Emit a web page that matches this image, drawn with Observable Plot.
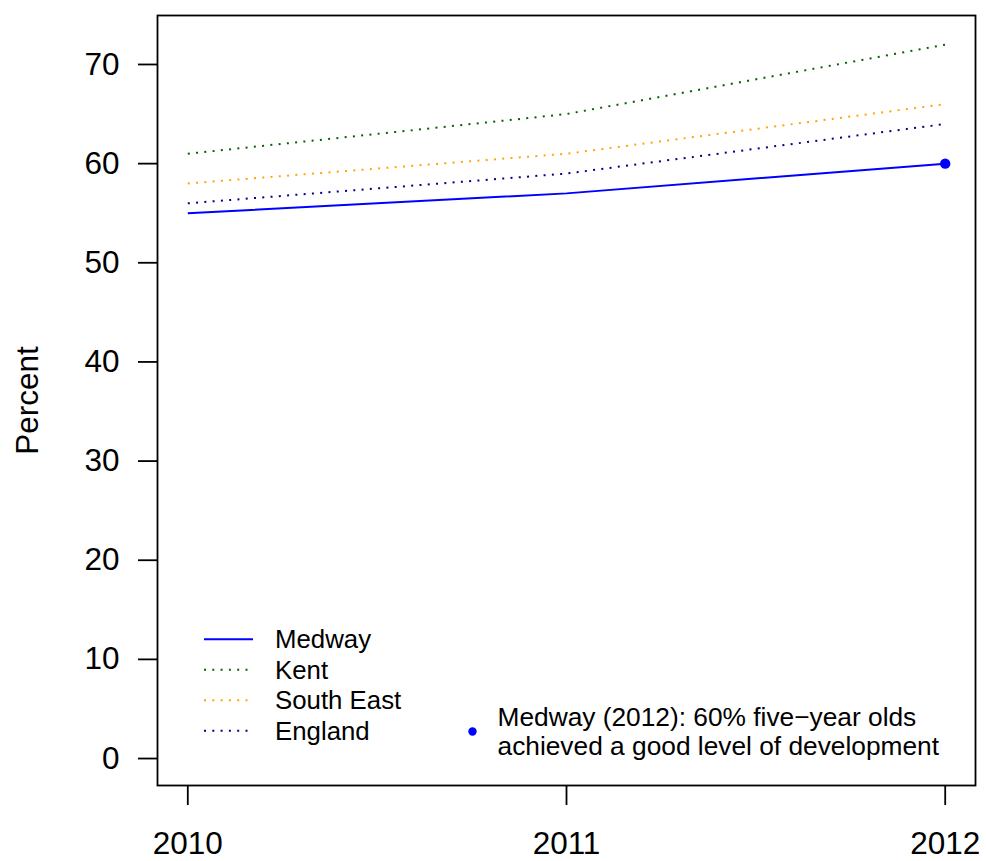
<!DOCTYPE html>
<html>
<head>
<meta charset="utf-8">
<script src="https://cdn.jsdelivr.net/npm/d3@7"></script>
<script src="https://cdn.jsdelivr.net/npm/@observablehq/plot@0.6"></script>
<style>
  body { margin: 0; background: #fff; }
  #chart { position: relative; width: 986px; height: 861px; }
</style>
</head>
<body>
<div id="chart"></div>
<script>
const years = [2010, 2011, 2012];
const seriesNames = ["Medway", "Kent", "South East", "England"];
const medway = [55, 57, 60];
const kent = [61, 65, 72];
const southEast = [58, 61, 66];
const england = [56, 59, 64];
const yTicks = [0, 10, 20, 30, 40, 50, 60, 70];
const yLabel = "Percent";
const annotation = "Medway (2012): 60% five\u2212year olds\nachieved a good level of development";
const highlightYear = 2012;
const highlightValue = 60;

const seriesValues = [medway, kent, southEast, england];
const colors = ["#0000FF", "#006400", "#FFA500", "#00008B"];
const dashes = [null, "2,6.3", "2,6.3", "2,6.3"];

const font = "'Liberation Sans', Arial, Helvetica, sans-serif";

const lineMarks = seriesNames.map((name, i) => {
  const rows = years.map((y, j) => ({year: y, value: seriesValues[i][j], series: name}));
  return Plot.line(rows, {
    x: "year", y: "value",
    stroke: colors[i],
    strokeWidth: 2,
    strokeDasharray: dashes[i] || undefined,
    strokeLinecap: "butt"
  });
});

const svg = Plot.plot({
  width: 986,
  height: 861,
  marginLeft: 157,
  marginRight: 11,
  marginTop: 15,
  marginBottom: 76,
  style: {fontFamily: font, fontSize: "31.5px", color: "#000", background: "#fff"},
  x: {domain: [2009.92, 2012.08], ticks: years, tickFormat: "d"},
  y: {domain: [-2.72, 74.94], ticks: yTicks},
  marks: [
    Plot.frame({stroke: "#000", strokeWidth: 1.8}),
    Plot.axisX({ticks: years, tickFormat: "d", tickSize: 20, tickPadding: 26, label: null, fontSize: 31.5, strokeWidth: 1.8}),
    Plot.axisY({ticks: yTicks, tickSize: 19, tickPadding: 19, label: null, fontSize: 31.5, strokeWidth: 1.8}),
    Plot.text([yLabel], {frameAnchor: "left", dx: -130, rotate: -90, textAnchor: "middle", fontSize: 31.5, fill: "#000"}),
    ...lineMarks,
    Plot.dot([{year: highlightYear, value: highlightValue}], {x: "year", y: "value", r: 5.2, fill: "#0000FF", stroke: "none"}),
    Plot.dot([annotation], {frameAnchor: "bottom-left", dx: 315, dy: -54, r: 4.2, fill: "#0000FF", stroke: "none"}),
    Plot.text([annotation], {frameAnchor: "bottom-left", dx: 340, dy: -54, textAnchor: "start", lineAnchor: "middle", lineHeight: 1.11, fontSize: 26.3, fill: "#000"})
  ]
});

// Legend (added into the SVG, bottom-left inside the frame)
const g = d3.select(svg).append("g")
  .attr("font-family", font)
  .attr("font-size", 25.8)
  .attr("text-anchor", "start");
const frameLeft = 157, frameBottom = 785;
seriesNames.forEach((name, i) => {
  const y = frameBottom - 145.7 + i * 30.5;
  g.append("line")
    .attr("x1", frameLeft + 47).attr("x2", frameLeft + 96)
    .attr("y1", y).attr("y2", y)
    .attr("stroke", colors[i]).attr("stroke-width", 2)
    .attr("stroke-dasharray", dashes[i] || null);
  g.append("text")
    .attr("x", frameLeft + 118).attr("y", y)
    .attr("dy", "0.35em")
    .attr("text-anchor", "start")
    .attr("fill", "#000")
    .text(name);
});

document.getElementById("chart").appendChild(svg);
</script>
</body>
</html>
